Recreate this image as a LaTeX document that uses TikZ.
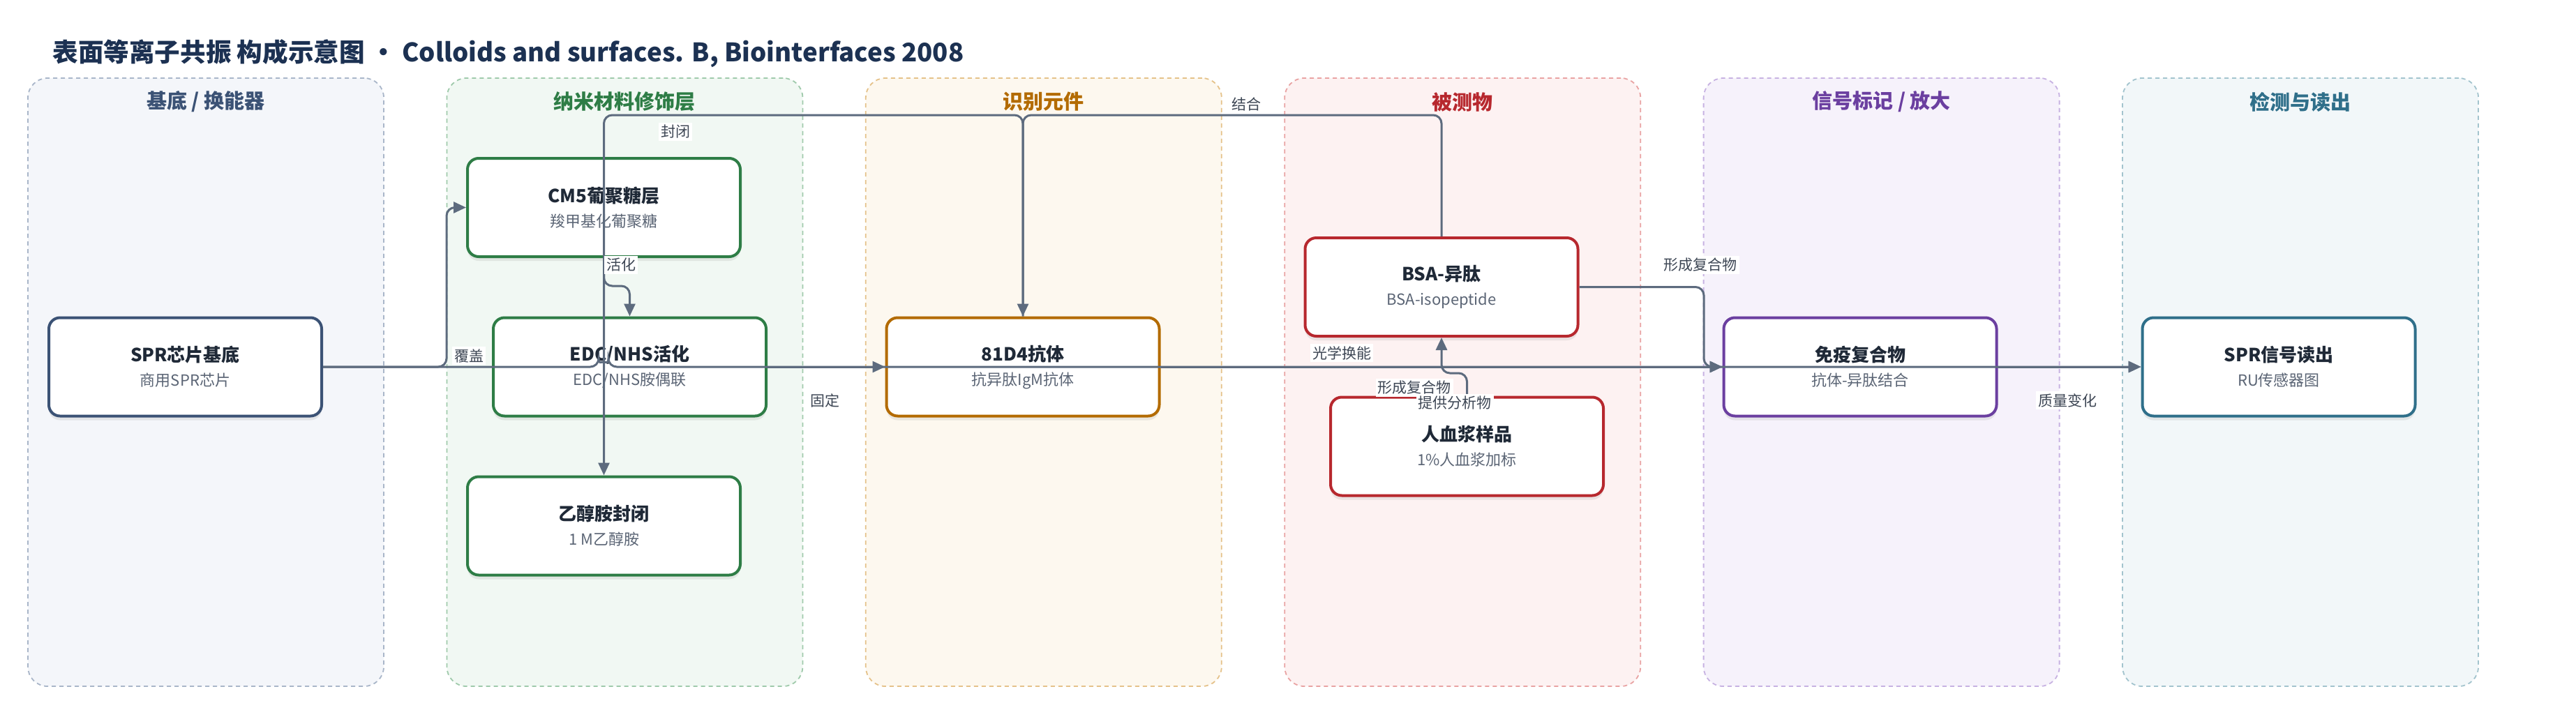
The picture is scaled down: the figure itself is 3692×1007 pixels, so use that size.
\documentclass[tikz,border=0pt]{standalone}
\usepackage{fontspec}
\setmainfont{Noto Sans CJK SC}
\usetikzlibrary{arrows.meta,shadows}
\definecolor{titlec}{HTML}{1C3152}
\definecolor{edgec}{HTML}{5D6B7E}
\definecolor{labc}{HTML}{3D4654}
\definecolor{ttc}{HTML}{1F2937}
\definecolor{subc}{HTML}{5B6575}
% panel colours
\definecolor{pAf}{HTML}{F4F6FA}\definecolor{pAd}{HTML}{A9B6C9}\definecolor{pAt}{HTML}{3B5275}
\definecolor{pBf}{HTML}{F1F8F3}\definecolor{pBd}{HTML}{9FCAAB}\definecolor{pBt}{HTML}{2E7D46}
\definecolor{pCf}{HTML}{FDF8EF}\definecolor{pCd}{HTML}{E5C28A}\definecolor{pCt}{HTML}{B36B00}
\definecolor{pDf}{HTML}{FDF2F2}\definecolor{pDd}{HTML}{E9A3A3}\definecolor{pDt}{HTML}{B7282E}
\definecolor{pEf}{HTML}{F6F2FB}\definecolor{pEd}{HTML}{C7B2E2}\definecolor{pEt}{HTML}{6B3FA0}
\definecolor{pFf}{HTML}{F2F7F9}\definecolor{pFd}{HTML}{A3C4CE}\definecolor{pFt}{HTML}{2F6F8A}
\newcommand\nt[2]{{\fontsize{13}{17.5}\selectfont\bfseries\color{ttc}#1}\\{\color{subc}#2}}
\begin{document}
\begin{tikzpicture}[x=0.5pt,y=-0.5pt,
  panel/.style={draw, dash pattern=on 3pt off 2.5pt, line width=0.9pt, rounded corners=14pt, minimum width=255pt, minimum height=436pt, inner sep=0pt},
  ptitle/.style={font=\fontsize{14.5}{17}\selectfont\bfseries},
  nbox/.style={draw, fill=white, line width=2pt, rounded corners=8pt, minimum width=195.5pt, minimum height=70.5pt, inner sep=0pt, align=center, font=\fontsize{11}{17.5}\selectfont, drop shadow={shadow xshift=0pt, shadow yshift=-3pt, opacity=0.15}},
  conn/.style={draw=edgec, line width=1.5pt, rounded corners=6pt},
  arr/.style={-{Triangle[length=9pt,width=8pt]}},
  elabel/.style={fill=white, inner sep=1.5pt, text=labc, font=\fontsize{10.5}{12}\selectfont},
]
\useasboundingbox[fill=white] (0,0) rectangle (3692,1007);

% title
\node[anchor=west, text=titlec, font=\fontsize{18.3}{21}\selectfont\bfseries, inner sep=0pt] (title) at (75,77) {表面等离子共振 构成示意图 · Colloids and surfaces. B, Biointerfaces 2008};

% panels
\node[panel, fill=pAf, draw=pAd] (pA) at (295,548) {};
\node[panel, fill=pBf, draw=pBd] (pB) at (895.4,548) {};
\node[panel, fill=pCf, draw=pCd] (pC) at (1495.8,548) {};
\node[panel, fill=pDf, draw=pDd] (pD) at (2096.2,548) {};
\node[panel, fill=pEf, draw=pEd] (pE) at (2696.6,548) {};
\node[panel, fill=pFf, draw=pFd] (pF) at (3297,548) {};
\node[ptitle, text=pAt] (tA) at (295,146) {基底 / 换能器};
\node[ptitle, text=pBt] (tB) at (895.4,146) {纳米材料修饰层};
\node[ptitle, text=pCt] (tC) at (1495.8,146) {识别元件};
\node[ptitle, text=pDt] (tD) at (2096.2,146) {被测物};
\node[ptitle, text=pEt] (tE) at (2696.6,146) {信号标记 / 放大};
\node[ptitle, text=pFt] (tF) at (3297,146) {检测与读出};

% nodes
\node[nbox, draw=pAt] (spr) at (265.5,526) {\nt{SPR芯片基底}{商用SPR芯片}};
\node[nbox, draw=pBt] (cm5) at (865.5,297.5) {\nt{CM5葡聚糖层}{羧甲基化葡聚糖}};
\node[nbox, draw=pBt] (edc) at (902.5,526) {\nt{EDC/NHS活化}{EDC/NHS胺偶联}};
\node[nbox, draw=pBt] (eth) at (865.5,754) {\nt{乙醇胺封闭}{1 M乙醇胺}};
\node[nbox, draw=pCt] (ab) at (1466,526) {\nt{81D4抗体}{抗异肽IgM抗体}};
\node[nbox, draw=pDt] (bsa) at (2066,411.5) {\nt{BSA-异肽}{BSA-isopeptide}};
\node[nbox, draw=pDt] (pl) at (2102.5,640) {\nt{人血浆样品}{1\%人血浆加标}};
\node[nbox, draw=pEt] (imm) at (2666,526) {\nt{免疫复合物}{抗体-异肽结合}};
\node[nbox, draw=pFt] (rd) at (3266,526) {\nt{SPR信号读出}{RU传感器图}};

% connectors
\draw[conn, arr] (spr.east) -- (640,526) |- (cm5.west);
\draw[conn, arr] (spr.east) -- (858,526) arc[start angle=180, end angle=0, radius=3.5pt] -- (rd.west);
\draw[conn, arr] (cm5.south) -- (865.5,410) -| (edc.north);
\draw[conn, arr] (ab.north) -- (1466,165) -- (865.5,165) -- (eth.north);
\draw[conn, arr] (bsa.north) -- (2066,165) -- (1466,165) -- (ab.north);
\draw[conn, arr] (edc.east) -- (ab.west);
\draw[conn, arr] (ab.east) -- (imm.west);
\draw[conn, arr] (bsa.east) -- (2442,411.5) |- (imm.west);
\draw[conn, arr] (pl.north) -- (2102.5,535) -| (bsa.south);
\draw[conn, arr] (imm.east) -- (rd.west);

% labels
\node[elabel] (l1) at (672,510) {覆盖};
\node[elabel] (l2) at (890,380) {活化};
\node[elabel] (l3) at (968,189) {封闭};
\node[elabel] (l4) at (1786,149) {结合};
\node[elabel] (l5) at (1182,574) {固定};
\node[elabel] (l6) at (1923,506) {光学换能};
\node[elabel] (l7) at (2027,556) {形成复合物};
\node[elabel] (l8) at (2085,578) {提供分析物};
\node[elabel] (l9) at (2437,380) {形成复合物};
\node[elabel] (l10) at (2963,574) {质量变化};
\end{tikzpicture}
\end{document}
